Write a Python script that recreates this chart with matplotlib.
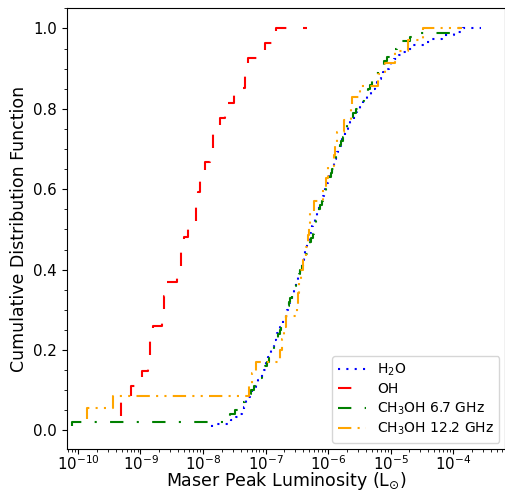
import numpy as np
import matplotlib
matplotlib.use("Agg")
import matplotlib.pyplot as plt
from matplotlib.ticker import AutoMinorLocator

# log10 of maser peak luminosity (L_sun), one entry per source
h2o_logL = [
    -7.856, -7.546, -7.470, -7.418, -7.376, -7.350, -7.330, -7.309, -7.286, -7.254,
    -7.221, -7.189, -7.157, -7.125, -7.088, -7.051, -7.022, -7.000, -6.986, -6.970,
    -6.955, -6.936, -6.914, -6.891, -6.870, -6.851, -6.830, -6.810, -6.790, -6.770,
    -6.747, -6.725, -6.702, -6.678, -6.656, -6.638, -6.621, -6.602, -6.584, -6.566,
    -6.549, -6.530, -6.512, -6.494, -6.477, -6.459, -6.442, -6.426, -6.413, -6.400,
    -6.387, -6.374, -6.362, -6.349, -6.336, -6.323, -6.310, -6.293, -6.274, -6.254,
    -6.235, -6.216, -6.197, -6.178, -6.158, -6.139, -6.120, -6.104, -6.086, -6.069,
    -6.051, -6.034, -6.016, -5.998, -5.979, -5.962, -5.944, -5.925, -5.907, -5.888,
    -5.870, -5.853, -5.834, -5.813, -5.792, -5.773, -5.750, -5.726, -5.702, -5.674,
    -5.645, -5.614, -5.587, -5.563, -5.539, -5.491, -5.446, -5.413, -5.379, -5.316,
    -5.277, -5.248, -5.219, -5.187, -5.152, -5.114, -5.072, -5.032, -4.987, -4.938,
    -4.870, -4.814, -4.754, -4.643, -4.462, -4.355, -4.178, -3.984, -3.843, -3.552,
]

oh_logL = [
    -9.312, -9.152, -8.976, -8.880, -8.848, -8.800, -8.648, -8.624, -8.592, -8.416,
    -8.352, -8.304, -8.240, -8.112, -8.080, -8.048, -7.968, -7.888, -7.840, -7.728,
    -7.648, -7.512, -7.328, -7.280, -7.008, -6.832, -6.341,
]

ch3oh_67_logL = [
    -10.096, -7.651, -7.564, -7.492, -7.436, -7.381, -7.328, -7.277, -7.226, -7.179,
    -7.138, -7.098, -7.056, -7.029, -7.002, -6.974, -6.947, -6.922, -6.898, -6.872,
    -6.846, -6.822, -6.797, -6.772, -6.748, -6.724, -6.700, -6.678, -6.659, -6.640,
    -6.621, -6.602, -6.581, -6.558, -6.536, -6.515, -6.493, -6.470, -6.448, -6.422,
    -6.398, -6.373, -6.349, -6.326, -6.306, -6.286, -6.266, -6.248, -6.232, -6.216,
    -6.200, -6.182, -6.162, -6.142, -6.122, -6.102, -6.082, -6.061, -6.040, -6.019,
    -5.998, -5.978, -5.957, -5.934, -5.912, -5.890, -5.867, -5.846, -5.826, -5.806,
    -5.786, -5.765, -5.742, -5.718, -5.696, -5.664, -5.632, -5.600, -5.560, -5.512,
    -5.464, -5.424, -5.392, -5.360, -5.328, -5.296, -5.264, -5.232, -5.194, -5.149,
    -5.104, -5.059, -5.014, -4.970, -4.893, -4.810, -4.688, -4.528, -4.048, -3.696,
]

ch3oh_122_logL = [
    -9.856, -9.440, -7.264, -7.216, -7.152, -6.768, -6.736, -6.704, -6.672, -6.496,
    -6.480, -6.464, -6.432, -6.400, -6.352, -6.320, -6.304, -6.288, -6.224, -6.080,
    -6.032, -6.000, -5.904, -5.888, -5.856, -5.744, -5.632, -5.616, -5.488, -5.200,
    -5.088, -4.928, -4.720, -4.480, -3.856,
]

labels = [r"H$_2$O", "OH", r"CH$_3$OH 6.7 GHz", r"CH$_3$OH 12.2 GHz"]
colors = ["blue", "red", "green", "orange"]
styles = [(0, (1, 3)), (0, (6.4, 8)), (0, (6.4, 6.4, 1, 6.4)), (0, (6.4, 3, 1, 3, 1, 3))]


def cdf(logL):
    x = np.sort(10.0 ** np.array(logL))
    y = np.arange(1, len(x) + 1) / len(x)
    return x, y


fig = plt.figure(figsize=(5.06, 4.93), dpi=100)
ax = fig.add_axes([0.1318, 0.0901, 0.8662, 0.8929])

for data, lab, c, ls in zip([h2o_logL, oh_logL, ch3oh_67_logL, ch3oh_122_logL],
                            labels, colors, styles):
    x, y = cdf(data)
    ax.step(x, y, where="pre", color=c, ls=ls, lw=1.5, label=lab)

ax.set_xscale("log")
ax.set_xlim(10 ** -10.18, 10 ** -3.17)
ax.set_ylim(-0.045, 1.05)
ax.yaxis.set_minor_locator(AutoMinorLocator(4))
ax.tick_params(labelsize=10.8)
ax.tick_params(axis="x", pad=0.5)

ax.set_xlabel(r"Maser Peak Luminosity (L$_{\odot}$)", fontsize=12.5, labelpad=-2)
ax.set_ylabel("Cumulative Distribution Function", fontsize=12.5)
ax.legend(loc="lower right", fontsize=10, labelspacing=0.3, borderaxespad=0.4)

fig.savefig("out.png", dpi=100)
